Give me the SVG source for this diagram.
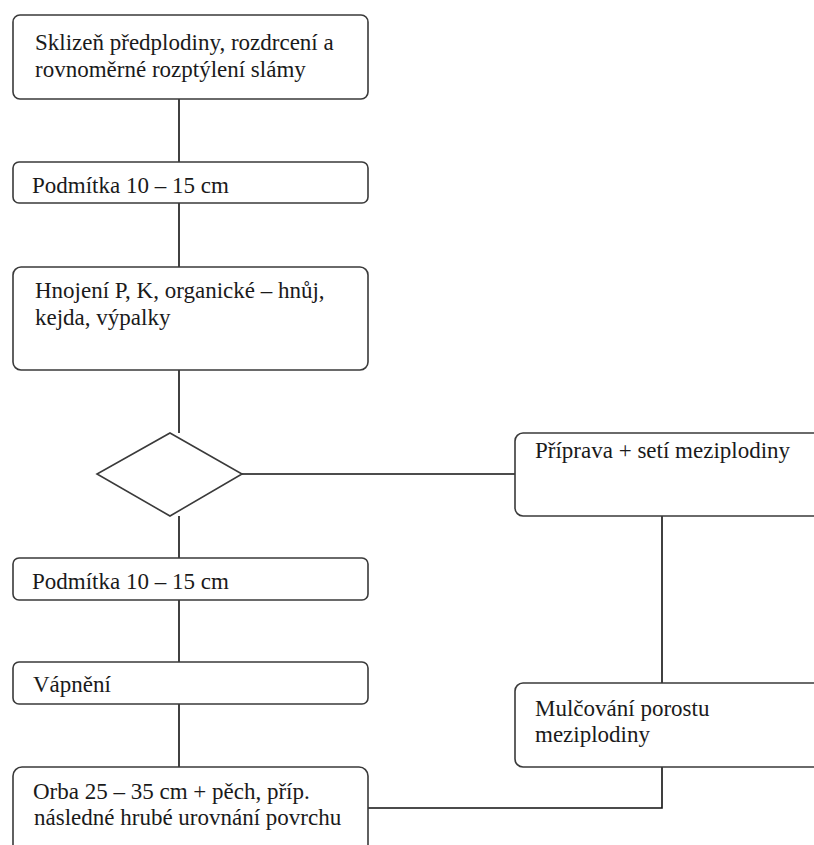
<svg xmlns="http://www.w3.org/2000/svg" width="814" height="845" viewBox="0 0 814 845">
<style>
.box{fill:#fff;stroke:#3a3a3a;stroke-width:1.6}
.c{fill:none;stroke:#111;stroke-width:1.6}
</style>
<rect width="814" height="845" fill="#fff"/>
<g id="connectors">
<line class="c" x1="179" y1="99" x2="179" y2="162"/>
<line class="c" x1="179" y1="203" x2="179" y2="267"/>
<line class="c" x1="179" y1="370" x2="179" y2="433"/>
<line class="c" x1="179" y1="516" x2="179" y2="558"/>
<line class="c" x1="242" y1="474" x2="515" y2="474"/>
<line class="c" x1="179" y1="600" x2="179" y2="662"/>
<line class="c" x1="179" y1="704" x2="179" y2="767"/>
<line class="c" x1="662" y1="516" x2="662" y2="683"/>
<polyline class="c" points="662,767 662,808 368,808"/>
</g>
<g font-family="Liberation Serif, Times New Roman, serif" font-size="23" fill="#1a1a1a">
<g id="n1"><rect class="box" x="13" y="15" width="355" height="84" rx="7"/>
<text x="35" y="50">Sklizeň předplodiny, rozdrcení a</text>
<text x="35" y="77">rovnoměrné rozptýlení slámy</text></g>
<g id="n2"><rect class="box" x="13" y="162" width="355" height="41" rx="6"/>
<text x="32" y="193">Podmítka 10 – 15 cm</text></g>
<g id="n3"><rect class="box" x="13" y="267" width="355" height="103" rx="8"/>
<text x="35" y="298">Hnojení P, K, organické – hnůj,</text>
<text x="35" y="325">kejda, výpalky</text></g>
<g id="decision"><polygon class="box" points="170,433 242,474 170,516 97,474"/></g>
<g id="n4"><rect class="box" x="515" y="433" width="320" height="83" rx="8"/>
<text x="535" y="458">Příprava + setí meziplodiny</text></g>
<g id="n5"><rect class="box" x="13" y="558" width="355" height="42" rx="6"/>
<text x="32" y="589">Podmítka 10 – 15 cm</text></g>
<g id="n6"><rect class="box" x="13" y="662" width="355" height="42" rx="6"/>
<text x="33" y="692">Vápnění</text></g>
<g id="n7"><rect class="box" x="515" y="683" width="320" height="84" rx="8"/>
<text x="535" y="716">Mulčování porostu</text>
<text x="535" y="742">meziplodiny</text></g>
<g id="n8"><rect class="box" x="13" y="767" width="355" height="100" rx="9"/>
<text x="33" y="799">Orba 25 – 35 cm + pěch, příp.</text>
<text x="34" y="825">následné hrubé urovnání povrchu</text></g>
</g>
</svg>
